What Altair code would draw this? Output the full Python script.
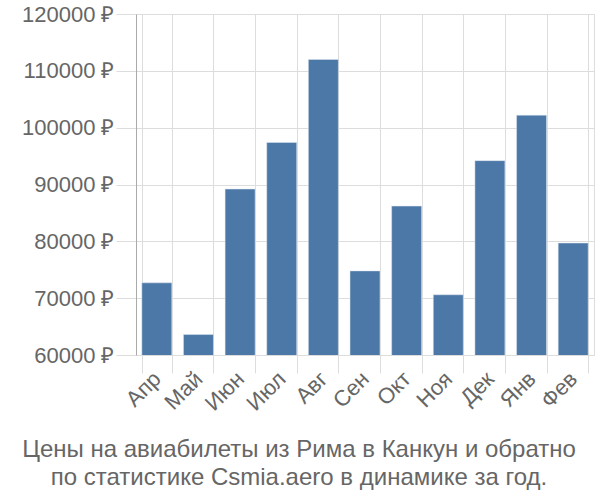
import altair as alt
import pandas as pd

months = ["Апр", "Май", "Июн", "Июл", "Авг", "Сен", "Окт", "Ноя", "Дек", "Янв", "Фев"]
prices = [72700, 63600, 89200, 97400, 112000, 74800, 86200, 70600, 94200, 102200, 79700]
title_lines = ["Цены на авиабилеты из Рима в Канкун и обратно",
               "по статистике Csmia.aero в динамике за год."]

df = pd.DataFrame({"month": months, "price": prices})

FONT = "Liberation Sans"

chart = alt.Chart(df).mark_bar(color="#4c78a8", stroke="#dfe6ef", strokeWidth=0.5, clip=True).encode(
    x=alt.X("month:N", sort=months, title=None,
            scale=alt.Scale(paddingInner=0.28, paddingOuter=0.14),
            axis=alt.Axis(labelAngle=-45, labelAlign="right", labelBaseline="middle",
                          tickBand="extent", grid=True, gridColor="#dddddd",
                          tickColor="#dddddd", tickSize=18, domain=False,
                          labelFontSize=22, labelColor="#666666", labelFont=FONT,
                          labelPadding=2)),
    y=alt.Y("price:Q", title=None,
            scale=alt.Scale(domain=[60000, 120000], nice=False, zero=False),
            axis=alt.Axis(values=[60000, 70000, 80000, 90000, 100000, 110000, 120000],
                          labelExpr="datum.value + ' ₽'",
                          grid=True, gridColor="#dddddd", tickColor="#dddddd",
                          tickSize=20, domainColor="#aaaaaa", labelFontSize=22,
                          labelColor="#666666", labelFont=FONT, labelPadding=2)),
).properties(
    width=458, height=341,
    autosize=alt.AutoSizeParams(type="none"),
    padding={"left": 136, "top": 14, "right": 6, "bottom": 145},
    title=alt.TitleParams(text=title_lines, orient="bottom", anchor="middle",
                          dx=-66, offset=24, fontSize=24, font=FONT,
                          color="#666666", fontWeight="normal", lineHeight=28),
).configure_view(stroke="#dddddd")

chart.save("out.html", embed_options={"renderer": "svg", "actions": False})
